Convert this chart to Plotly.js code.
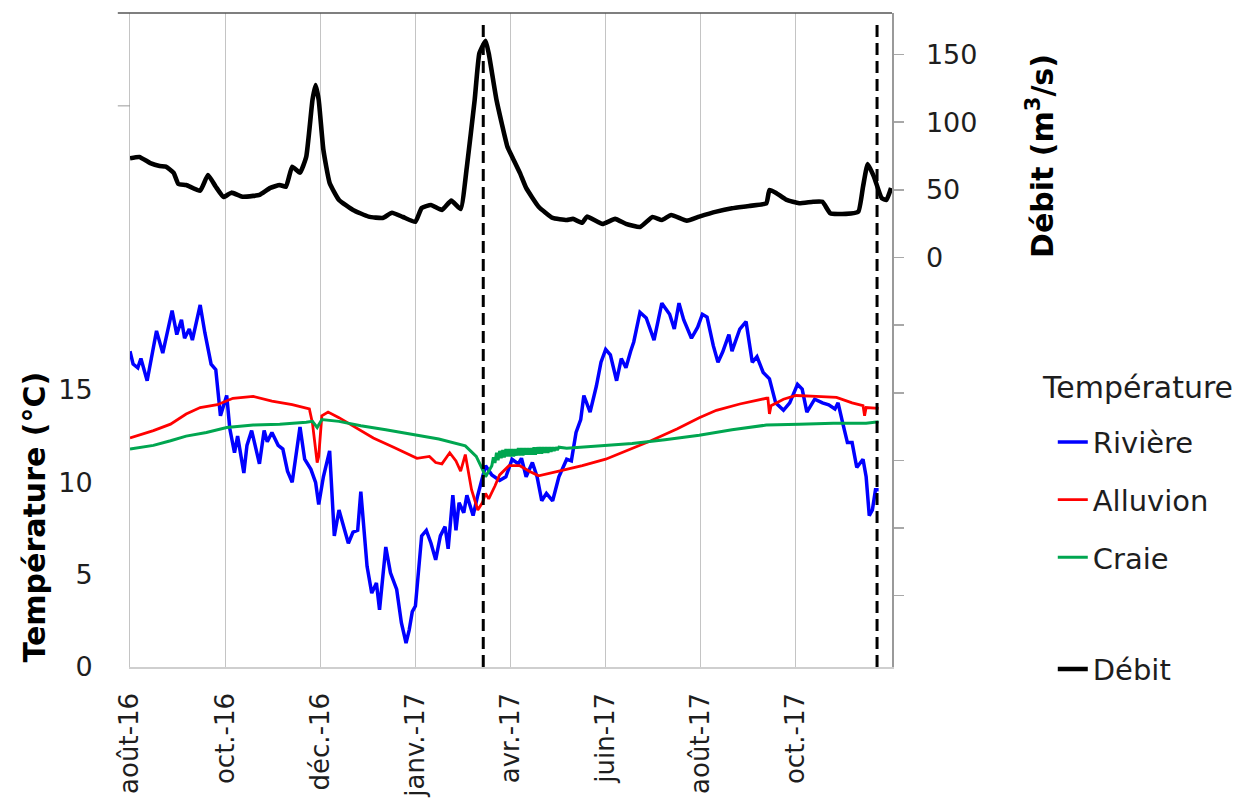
<!DOCTYPE html>
<html>
<head>
<meta charset="utf-8">
<script src="https://cdn.plot.ly/plotly-3.0.1.min.js"></script>
<style>html,body{margin:0;padding:0;background:#fff;}#chart{width:1260px;height:800px;}</style>
</head>
<body>
<div id="chart"></div>
<script>
// ---- Data ----
const tickDates = ['2016-08-01','2016-10-01','2016-12-01','2017-01-31','2017-04-02','2017-06-02','2017-08-02','2017-10-02'];
const tickLabels = ['août-16','oct.-16','déc.-16','janv.-17','avr.-17','juin-17','août-17','oct.-17'];
const evenements = ['2017-03-15 12:00','2017-11-23'];

const datesRiviere = ['2016-08-01','2016-08-03','2016-08-06','2016-08-08','2016-08-12','2016-08-15','2016-08-18','2016-08-22','2016-08-28','2016-08-31',
'2016-09-03','2016-09-05','2016-09-08','2016-09-10','2016-09-15','2016-09-18','2016-09-22','2016-09-25','2016-09-28','2016-10-02',
'2016-10-04','2016-10-07','2016-10-09','2016-10-13','2016-10-15','2016-10-18','2016-10-23','2016-10-26','2016-10-28','2016-10-31',
'2016-11-04','2016-11-07','2016-11-10','2016-11-13','2016-11-15','2016-11-18','2016-11-21','2016-11-25','2016-11-28','2016-11-30',
'2016-12-03','2016-12-07','2016-12-10','2016-12-13','2016-12-17','2016-12-19','2016-12-22','2016-12-25','2016-12-27','2016-12-31',
'2017-01-03','2017-01-06','2017-01-08','2017-01-12','2017-01-15','2017-01-19','2017-01-22','2017-01-25','2017-01-27','2017-01-29',
'2017-01-31','2017-02-04','2017-02-07','2017-02-10','2017-02-13','2017-02-16','2017-02-19','2017-02-21','2017-02-24','2017-02-26',
'2017-02-28','2017-03-03','2017-03-05','2017-03-09','2017-03-12','2017-03-15','2017-03-17','2017-03-21','2017-03-26','2017-03-30',
'2017-04-03','2017-04-07','2017-04-09','2017-04-12','2017-04-16','2017-04-19','2017-04-22','2017-04-25','2017-04-29','2017-05-03',
'2017-05-08','2017-05-11','2017-05-14','2017-05-17','2017-05-19','2017-05-23','2017-05-27','2017-05-30','2017-06-02','2017-06-05',
'2017-06-09','2017-06-12','2017-06-15','2017-06-18','2017-06-20','2017-06-24','2017-06-28','2017-07-03','2017-07-08','2017-07-13',
'2017-07-16','2017-07-19','2017-07-22','2017-07-27','2017-07-31','2017-08-03','2017-08-06','2017-08-10','2017-08-13','2017-08-16',
'2017-08-20','2017-08-22','2017-08-27','2017-08-31','2017-09-04','2017-09-07','2017-09-11','2017-09-15','2017-09-19','2017-09-24',
'2017-09-28','2017-10-03','2017-10-06','2017-10-09','2017-10-14','2017-10-19','2017-10-23','2017-10-27','2017-10-29','2017-11-01',
'2017-11-04','2017-11-07','2017-11-10','2017-11-14','2017-11-16','2017-11-18','2017-11-20','2017-11-22','2017-11-24'];
const tempRiviere = [17.1,16.4,16.2,16.7,15.5,16.9,18.2,17.0,19.3,18.0,
18.8,17.8,18.3,17.7,19.6,18.1,16.4,16.1,13.6,14.7,
12.9,11.6,12.5,10.5,12.0,12.8,11.0,12.8,12.2,12.7,
12.0,11.8,10.6,10.0,11.1,13.0,11.25,10.7,10.0,8.8,
10.3,11.7,7.1,8.5,7.3,6.7,7.3,7.4,9.5,5.45,
4.0,4.55,3.1,6.5,5.1,4.2,2.4,1.3,2.0,3.0,
3.3,7.1,7.4,6.7,5.8,7.1,7.6,6.4,9.3,7.4,
8.9,8.35,9.3,8.2,9.3,10.3,10.9,10.4,10.1,10.3,
11.25,11.0,11.3,10.3,11.07,10.3,9.0,9.4,9.0,10.3,
11.25,11.16,12.7,13.4,14.7,13.8,15.2,16.5,17.2,16.9,
15.5,16.7,16.2,17.1,17.6,19.2,18.9,17.7,19.7,19.1,
18.3,19.7,18.8,17.8,18.4,19.1,18.95,17.4,16.5,17.05,
18.0,17.1,18.3,18.7,16.5,16.8,15.95,15.6,14.3,13.9,
14.3,15.3,15.05,13.8,14.5,14.3,14.2,13.97,14.3,13.2,
12.15,12.15,10.8,11.25,10.3,8.2,8.5,9.6,9.6];

const datesAlluvion = ['2016-08-01','2016-08-16','2016-08-27','2016-09-06','2016-09-15','2016-09-26','2016-10-06','2016-10-19','2016-10-31','2016-11-13',
'2016-11-24','2016-11-26','2016-11-29','2016-11-30','2016-12-02','2016-12-06','2016-12-13','2016-12-22','2017-01-04','2017-01-17',
'2017-02-01','2017-02-09','2017-02-13','2017-02-17','2017-02-22','2017-02-26','2017-03-01','2017-03-04','2017-03-08','2017-03-12',
'2017-03-15','2017-03-17','2017-03-19','2017-03-23','2017-03-26','2017-04-01','2017-04-08','2017-04-14','2017-04-20','2017-05-03',
'2017-05-18','2017-06-02','2017-06-15','2017-07-01','2017-07-18','2017-08-01','2017-08-12','2017-08-27','2017-09-13','2017-09-14',
'2017-09-15','2017-09-16','2017-09-24','2017-10-02','2017-10-15','2017-10-28','2017-11-07','2017-11-14','2017-11-15','2017-11-16',
'2017-11-24'];
const tempAlluvion = [12.4,12.8,13.15,13.7,14.05,14.2,14.55,14.65,14.4,14.2,
13.97,13.2,11.07,11.4,13.6,13.8,13.5,13.06,12.4,11.9,
11.3,11.4,11.07,11.0,11.6,11.16,10.6,11.5,9.6,8.5,
8.9,9.4,9.1,9.8,10.4,10.9,10.9,10.6,10.35,10.6,
10.9,11.25,11.7,12.25,12.9,13.5,13.9,14.24,14.55,14.55,
13.7,14.15,14.5,14.7,14.65,14.6,14.3,14.15,13.6,14.05,
14.0];

const datesCraie = ['2016-08-01','2016-08-16','2016-08-27','2016-09-06','2016-09-19','2016-10-02','2016-10-19','2016-11-05','2016-11-22','2016-11-26',
'2016-11-29','2016-12-02','2016-12-13','2016-12-27','2017-01-12','2017-01-29','2017-02-15','2017-03-04','2017-03-11','2017-03-15',
'2017-03-17','2017-03-21','2017-03-22','2017-03-23','2017-03-24','2017-03-25','2017-03-26','2017-03-27','2017-03-28','2017-03-29',
'2017-03-30','2017-03-31','2017-04-01','2017-04-02','2017-04-03','2017-04-04','2017-04-05','2017-04-06','2017-04-07','2017-04-08',
'2017-04-09','2017-04-10','2017-04-11','2017-04-12','2017-04-13','2017-04-14','2017-04-15','2017-04-16','2017-04-17','2017-04-18',
'2017-04-19','2017-04-20','2017-04-21','2017-04-22','2017-04-23','2017-04-24','2017-04-25','2017-04-26','2017-04-27','2017-04-28',
'2017-04-29','2017-04-30','2017-05-01','2017-05-02','2017-05-03','2017-05-08','2017-05-29','2017-06-19','2017-07-10','2017-08-01',
'2017-08-22','2017-09-13','2017-10-04','2017-10-26','2017-11-16','2017-11-24'];
const tempCraie = [11.8,12.0,12.25,12.5,12.7,12.97,13.1,13.15,13.25,13.3,
12.97,13.4,13.3,13.06,12.84,12.6,12.34,11.97,11.4,10.7,
10.3,10.9,11.35,11.05,11.6,11.2,11.7,11.3,11.75,11.35,
11.8,11.4,11.8,11.4,11.8,11.4,11.8,11.45,11.85,11.45,
11.85,11.45,11.85,11.5,11.85,11.5,11.85,11.5,11.9,11.5,
11.9,11.55,11.9,11.55,11.9,11.6,11.9,11.6,11.9,11.65,
11.9,11.7,11.9,11.75,11.9,11.85,11.97,12.1,12.3,12.55,
12.84,13.1,13.15,13.2,13.2,13.28];

const datesDebit = ['2016-08-01','2016-08-07','2016-08-14','2016-08-20','2016-08-24','2016-08-29','2016-09-01','2016-09-06','2016-09-15','2016-09-20',
'2016-09-25','2016-09-30','2016-10-05','2016-10-12','2016-10-19','2016-10-23','2016-10-30','2016-11-05','2016-11-09','2016-11-13',
'2016-11-18','2016-11-22','2016-11-26','2016-11-28','2016-11-30','2016-12-03','2016-12-07','2016-12-13','2016-12-22','2017-01-01',
'2017-01-10','2017-01-16','2017-01-23','2017-01-31','2017-02-04','2017-02-10','2017-02-17','2017-02-23','2017-03-01','2017-03-05',
'2017-03-10','2017-03-13','2017-03-17','2017-03-19','2017-03-24','2017-03-31','2017-04-03','2017-04-08','2017-04-12','2017-04-20',
'2017-04-29','2017-05-08','2017-05-12','2017-05-18','2017-05-21','2017-05-31','2017-06-08','2017-06-15','2017-06-24','2017-07-02',
'2017-07-08','2017-07-14','2017-07-24','2017-08-01','2017-08-12','2017-08-22','2017-09-02','2017-09-13','2017-09-15','2017-09-19',
'2017-09-26','2017-10-04','2017-10-13','2017-10-19','2017-10-24','2017-11-03','2017-11-11','2017-11-14','2017-11-17','2017-11-21',
'2017-11-26','2017-11-29','2017-12-02'];
const debit = [73.3,74.3,69.8,67.6,67.1,62.5,54.3,53.6,49.4,61.0,
52.3,44.7,47.9,44.9,45.5,46.2,51.4,53.6,52.3,67.1,
62.7,74.5,116.4,127.5,116.4,79.5,55.1,42.5,35.1,30.2,
29.2,33.1,29.9,26.4,36.6,38.8,35.1,42.0,35.8,67.1,
116.4,150.9,160.2,150.9,116.4,81.9,74.5,62.5,51.4,37.5,
29.2,27.7,28.5,25.7,30.2,24.8,28.5,24.8,22.5,29.9,
27.7,31.4,27.2,30.2,33.9,36.4,38.1,40.1,49.9,47.9,
42.5,40.1,41.2,41.2,32.7,32.2,33.9,52.3,69.1,59.7,
43.8,42.5,51.4];

const tempTicks = [0, 5, 10, 15];
const debitTicks = [-250, -200, -150, -100, -50, 0, 50, 100, 150];

// ---- Chart ----
const FONT = '"DejaVu Sans", sans-serif';
const TXT = '#1e1e1e';

const traces = [
  {x: datesRiviere, y: tempRiviere, name: 'Rivière', type: 'scatter', mode: 'lines',
   line: {color: '#0000ff', width: 3.5}, yaxis: 'y', legend: 'legend', legendgroup: 'g1'},
  {x: datesAlluvion, y: tempAlluvion, name: 'Alluvion', type: 'scatter', mode: 'lines',
   line: {color: '#ff0000', width: 2.8}, yaxis: 'y', legend: 'legend', legendgroup: 'g2'},
  {x: datesCraie, y: tempCraie, name: 'Craie', type: 'scatter', mode: 'lines',
   line: {color: '#00a650', width: 3}, yaxis: 'y', legend: 'legend', legendgroup: 'g3'},
  {x: datesDebit, y: debit, name: 'Débit', type: 'scatter', mode: 'lines',
   line: {color: '#000000', width: 4.6, shape: 'spline', smoothing: 0.4}, yaxis: 'y2', legend: 'legend2'}
];

const shapes = evenements.map(d => ({
  type: 'line', xref: 'x', yref: 'paper', x0: d, x1: d, y0: 0, y1: 0.99,
  line: {color: '#000', width: 3, dash: '12px,6px'}, layer: 'above'
}));
shapes.push({type: 'line', xref: 'paper', yref: 'paper', x0: -0.016, x1: 1, y0: 1, y1: 1,
  line: {color: '#555', width: 1.5}});
shapes.push({type: 'line', xref: 'paper', yref: 'paper', x0: -0.016, x1: 0, y0: 0.858, y1: 0.858,
  line: {color: '#999', width: 1}});

const layout = {
  width: 1260, height: 800,
  margin: {l: 130, r: 368, t: 13, b: 133},
  paper_bgcolor: '#fff', plot_bgcolor: '#fff',
  font: {family: FONT, color: TXT, size: 27},
  showlegend: true,
  xaxis: {
    type: 'date', range: ['2016-08-01', '2017-12-02 14:00'],
    tickmode: 'array', tickvals: tickDates, ticktext: tickLabels, tickangle: -90,
    tickfont: {family: FONT, size: 26, color: TXT},
    showgrid: true, gridcolor: '#c4c4c4', gridwidth: 1,
    showline: true, linecolor: '#cfcfcf', linewidth: 1.5,
    ticks: '', ticklabelstandoff: 14, zeroline: false
  },
  yaxis: {
    range: [0, 35.41], tickmode: 'array', tickvals: tempTicks, ticktext: tempTicks.map(String),
    tickfont: {family: FONT, size: 27, color: TXT},
    showgrid: false, zeroline: false, showline: true, linecolor: '#c4c4c4', linewidth: 1,
    ticks: '', ticklabelstandoff: 31
  },
  yaxis2: {
    overlaying: 'y', side: 'right', range: [-302.7, 180.7],
    tickmode: 'array', tickvals: debitTicks, ticktext: debitTicks.map(v => v >= 0 ? String(v) : ''),
    tickfont: {family: FONT, size: 27, color: TXT},
    showgrid: false, zeroline: false, showline: true, linecolor: '#9a9a9a', linewidth: 1.5,
    ticks: 'outside', ticklen: 10, tickcolor: '#a8a8a8', tickwidth: 1.5, ticklabelstandoff: 17
  },
  legend: {
    x: 1.211, xanchor: 'left', y: 0.3829, yanchor: 'top',
    bgcolor: 'rgba(0,0,0,0)', borderwidth: 0,
    font: {family: FONT, size: 29, color: TXT},
    traceorder: 'grouped', tracegroupgap: 17
  },
  legend2: {
    x: 1.211, xanchor: 'left', y: 0.0358, yanchor: 'top',
    bgcolor: 'rgba(0,0,0,0)', borderwidth: 0,
    font: {family: FONT, size: 29, color: TXT}
  },
  shapes: shapes,
  annotations: [
    {text: 'Température', xref: 'paper', yref: 'paper', x: 1.1942, y: 0.428,
     xanchor: 'left', yanchor: 'middle', showarrow: false, font: {family: FONT, size: 30, color: TXT}},
    {text: '<b>Température (°C)</b>', xref: 'paper', yref: 'paper', x: -0.1247, y: 0.2301,
     xanchor: 'center', yanchor: 'middle',
     textangle: -90, showarrow: false, font: {family: FONT, size: 30, color: '#000'}},
    {text: '<b>Débit (m<sup>3</sup>/s)</b>', xref: 'paper', yref: 'paper', x: 1.1942, y: 0.7813,
     xanchor: 'center', yanchor: 'middle',
     textangle: -90, showarrow: false, font: {family: FONT, size: 30, color: '#000'}}
  ]
};

Plotly.newPlot('chart', traces, layout, {displayModeBar: false, staticPlot: true});
</script>
</body>
</html>
